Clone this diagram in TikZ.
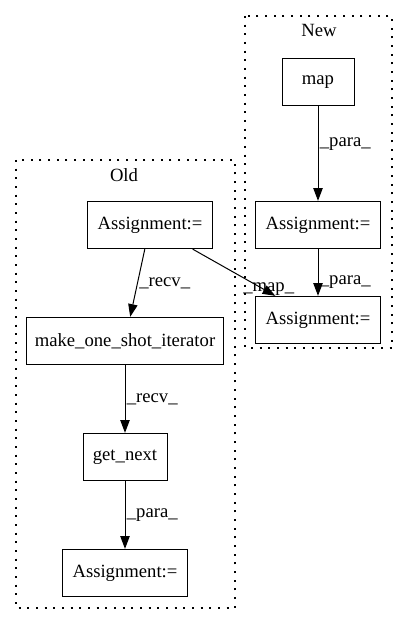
\documentclass[tikz,border=0pt]{standalone}
\usepackage{fontspec}
\setmainfont{Liberation Serif}
\usetikzlibrary{arrows.meta}

\begin{document}
\begin{tikzpicture}[
      x=0.75pt,y=-0.75pt,
      mybox/.style={
         rectangle,
         draw=black,
         line width=0.75pt,
         inner sep=0pt,
         minimum height=35.5pt,
         font=\fontsize{14}{16}\selectfont},
      mycluster/.style={
         draw=black,
         line width=0.8pt,
         dash pattern=on 1.5pt off 5pt},
      mytext/.style={
         font=\fontsize{14}{16}\selectfont},
      myarrow/.style={-{Triangle[length=9.5pt,width=7pt]},line width=0.75pt}
      ]
      \useasboundingbox (0,0) rectangle (408,624);
      % clusters
      \draw[mycluster] (16,160) rectangle (235,608);
      \draw[mycluster] (245,16) rectangle (392,348);
      \node[mytext] (lold) at (124,175) {Old};
      \node[mytext] (lnew) at (319,30) {New};
      % New
      \node[mybox,minimum width=54pt] (map) at (318,82) {map};
      \node[mybox,minimum width=94pt] (nm) at (318,225) {Assignment:=};
      \node[mybox,minimum width=94pt] (nb) at (318,320) {Assignment:=};
      % Old
      \node[mybox,minimum width=94pt] (oa) at (150,225) {Assignment:=};
      \node[mybox,minimum width=148pt] (mk) at (125,341) {make\_one\_shot\_iterator};
      \node[mybox,minimum width=63pt] (gn) at (125,457) {get\_next};
      \node[mybox,minimum width=94pt] (ob) at (125,573) {Assignment:=};
    \foreach \i/\j/\txt/\q in {
      oa/mk/\_recv\_/0.5,
      mk/gn/\_recv\_/0.5,
      gn/ob/\_para\_/0.5,
      map/nm/\_para\_/0.4,
      nm/nb/\_para\_/0.7}
       \draw [myarrow] (\i) -- node[mytext,right,inner sep=1pt,pos=\q] {\txt} (\j);
    \draw [myarrow] (oa) -- node[mytext,pos=0.92,yshift=2pt] {\_map\_} (nb);
\end{tikzpicture}
\end{document}
